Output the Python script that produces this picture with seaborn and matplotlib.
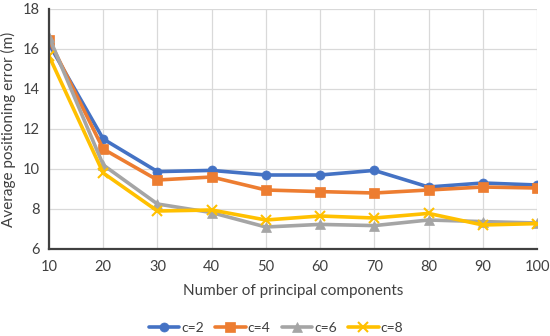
import matplotlib
matplotlib.use("Agg")
import matplotlib.pyplot as plt
import seaborn as sns
import pandas as pd

x_vals = [10, 20, 30, 40, 50, 60, 70, 80, 90, 100]
c2 = [16.25, 11.5, 9.87, 9.93, 9.7, 9.7, 9.93, 9.1, 9.3, 9.2]
c4 = [16.45, 11.0, 9.45, 9.6, 8.95, 8.87, 8.8, 8.95, 9.1, 9.05]
c6 = [16.6, 10.2, 8.25, 7.82, 7.1, 7.23, 7.17, 7.45, 7.37, 7.3]
c8 = [15.65, 9.8, 7.9, 7.95, 7.45, 7.65, 7.55, 7.78, 7.2, 7.27]
series_names = ["c=2", "c=4", "c=6", "c=8"]

sns.set_style("white")
plt.rcParams['font.family'] = ['Lato', 'DejaVu Sans']

rows = []
for name, vals in zip(series_names, [c2, c4, c6, c8]):
    for xv, yv in zip(x_vals, vals):
        rows.append({"x": xv, "y": yv, "series": name})
df = pd.DataFrame(rows)

colors = ["#4472C4", "#ED7D31", "#A5A5A5", "#FFC000"]
markers = ["o", "s", "^", "x"]

fig = plt.figure(figsize=(5.5, 3.36), dpi=100)
ax = fig.add_axes([49/550, 1-249/336, (537-49)/550, (249-9)/336])

for name, col, mk in zip(series_names, colors, markers):
    d = df[df.series == name]
    sns.lineplot(data=d, x="x", y="y", ax=ax, color=col, marker=mk,
                 markersize=6.5, linewidth=2.6, label=name,
                 markeredgecolor=col, markeredgewidth=1.5 if mk == "x" else 0.5)

ax.set_xlim(10, 100)
ax.set_ylim(6, 18)
ax.set_xticks(x_vals)
ax.set_yticks([6, 8, 10, 12, 14, 16, 18])
ax.grid(True, color="#D9D9D9", linewidth=0.9)
ax.tick_params(axis="both", labelsize=10.5, colors="#404040", length=3, width=1.2)
ax.tick_params(axis="x", direction="out", pad=5)
for s in ["top", "right"]:
    ax.spines[s].set_visible(False)
for s in ["left", "bottom"]:
    ax.spines[s].set_color("#404040")
    ax.spines[s].set_linewidth(1.6)
ax.set_xlabel("Number of principal components", fontsize=11, color="#404040", labelpad=7)
ax.set_ylabel("Average positioning error (m)", fontsize=11, color="#404040", labelpad=5)

leg = ax.legend(loc="center", bbox_to_anchor=(0.465, -0.33), ncol=4, frameon=False,
                fontsize=10, handlelength=2.2, columnspacing=0.8, handletextpad=0.15,
                borderpad=0.1)
for t in leg.get_texts():
    t.set_color("#404040")

fig.savefig("out.png", dpi=100)
